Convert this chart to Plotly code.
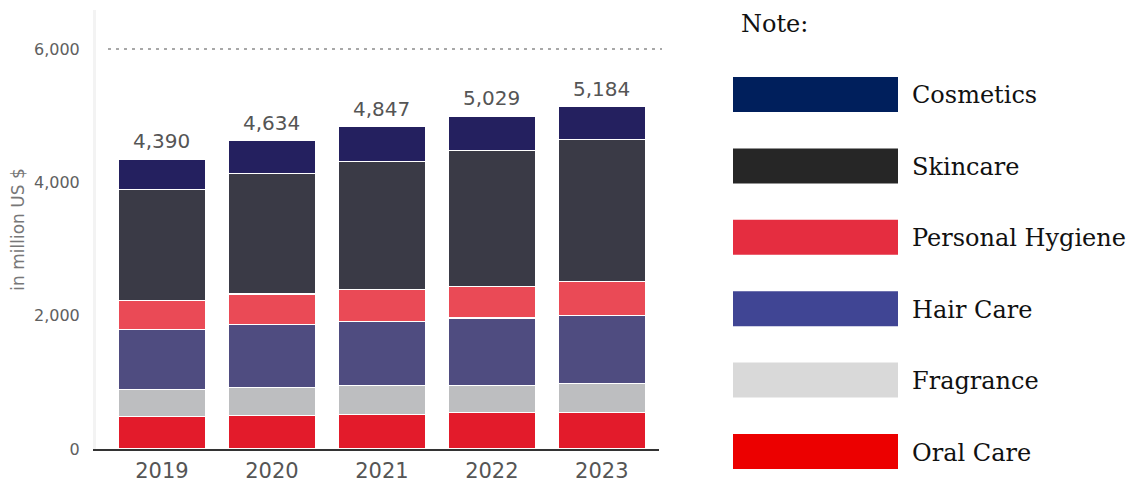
import plotly.graph_objects as go

# ---------------- data ----------------
years = ["2019", "2020", "2021", "2022", "2023"]
oral_care = [491, 502, 517, 542, 542]
fragrance = [400, 415, 439, 414, 439]
hair_care = [899, 948, 959, 1009, 1023]
personal_hygiene = [439, 460, 475, 474, 505]
skincare = [1659, 1802, 1922, 2033, 2128]
cosmetics = [457, 495, 524, 524, 499]
total_labels = ["4,390", "4,634", "4,847", "5,029", "5,184"]
y_ticks = [0, 2000, 4000, 6000]
y_tick_labels = ["0", "2,000", "4,000", "6,000"]
grid_value = 6000

series_names = ["Oral Care", "Fragrance", "Hair Care", "Personal Hygiene", "Skincare", "Cosmetics"]
series_values = [oral_care, fragrance, hair_care, personal_hygiene, skincare, cosmetics]
bar_colors = ["#e31b2b", "#bdbec0", "#4f4c80", "#ea4a56", "#3a3a46", "#24205f"]

legend_names = ["Cosmetics", "Skincare", "Personal Hygiene", "Hair Care", "Fragrance", "Oral Care"]
legend_colors = ["#001f5c", "#262626", "#e52d40", "#404594", "#d9d9d9", "#ec0000"]

# ---------------- layout geometry (window pixels) ----------------
OFF = 8                     # default body margin of the page
W, H = 1135 - OFF, 482 - OFF
L, R, T, B = 96, 659, 10, 449  # plot area in window pixels


def px_x(px):
    return (px - L) / (R - L)


def px_y(py):
    return (B - py) / (B - T)


fig = go.Figure()
for name, vals, col in zip(series_names, series_values, bar_colors):
    fig.add_trace(go.Bar(
        x=years, y=vals, name=name,
        marker=dict(color=col, line=dict(color="#ffffff", width=1.2)),
        showlegend=False, hoverinfo="x+y+name",
    ))

# total labels above each bar
stack_tops = [sum(v) for v in zip(*series_values)]
for i, (top, lab) in enumerate(zip(stack_tops, total_labels)):
    fig.add_annotation(x=i, y=top, xref="x", yref="y", text=lab, showarrow=False,
                       yanchor="bottom", yshift=4,
                       font=dict(family="DejaVu Sans", size=20, color="#555555"))

# dotted gridline at 6000
fig.add_shape(type="line", xref="paper", yref="y",
              x0=px_x(108), x1=px_x(662), y0=grid_value, y1=grid_value,
              line=dict(color="#a8a8a8", width=2, dash="3px,5px"))

# custom legend on the right
fig.add_annotation(xref="paper", yref="paper", x=px_x(739), y=px_y(24),
                   xanchor="left", yanchor="middle", showarrow=False,
                   text="Note:", font=dict(family="DejaVu Serif", size=24, color="#111111"))
for i, (nm, col) in enumerate(zip(legend_names, legend_colors)):
    top = 77 + i * 71.4
    bot = top + 35
    fig.add_shape(type="rect", xref="paper", yref="paper",
                  x0=px_x(733), x1=px_x(898), y0=px_y(bot), y1=px_y(top),
                  fillcolor=col, line=dict(width=0))
    fig.add_annotation(xref="paper", yref="paper", x=px_x(910), y=px_y((top + bot) / 2 + 1),
                       xanchor="left", yanchor="middle", showarrow=False,
                       text=nm, font=dict(family="DejaVu Serif", size=24, color="#111111"))

fig.update_layout(
    width=W, height=H,
    margin=dict(l=L - OFF, r=W - (R - OFF), t=T - OFF, b=H - (B - OFF), autoexpand=False),
    barmode="stack", bargap=0.21,
    plot_bgcolor="#ffffff", paper_bgcolor="#ffffff",
    font=dict(family="DejaVu Sans", color="#555555"),
)
fig.update_xaxes(
    range=[-0.6, 4.52], showline=True, linecolor="#333333", linewidth=1.5,
    ticks="outside", ticklen=2, tickcolor="rgba(0,0,0,0)",
    tickfont=dict(family="DejaVu Sans", size=21, color="#555555"),
    showgrid=False, fixedrange=True, automargin=False,
)
fig.update_yaxes(
    range=[0, (B - T) / ((B - 49) / 6000.0)],
    tickvals=y_ticks, ticktext=y_tick_labels,
    ticks="outside", ticklen=10, tickcolor="rgba(0,0,0,0)",
    tickfont=dict(family="DejaVu Sans", size=16, color="#606060"),
    showgrid=False, zeroline=False,
    showline=True, linecolor="#f3f3f3", linewidth=3,
    title=dict(text="in million US $", standoff=9,
               font=dict(family="DejaVu Sans", size=17, color="#777777")),
    fixedrange=True, automargin=False,
)

fig.write_html("out.html")
